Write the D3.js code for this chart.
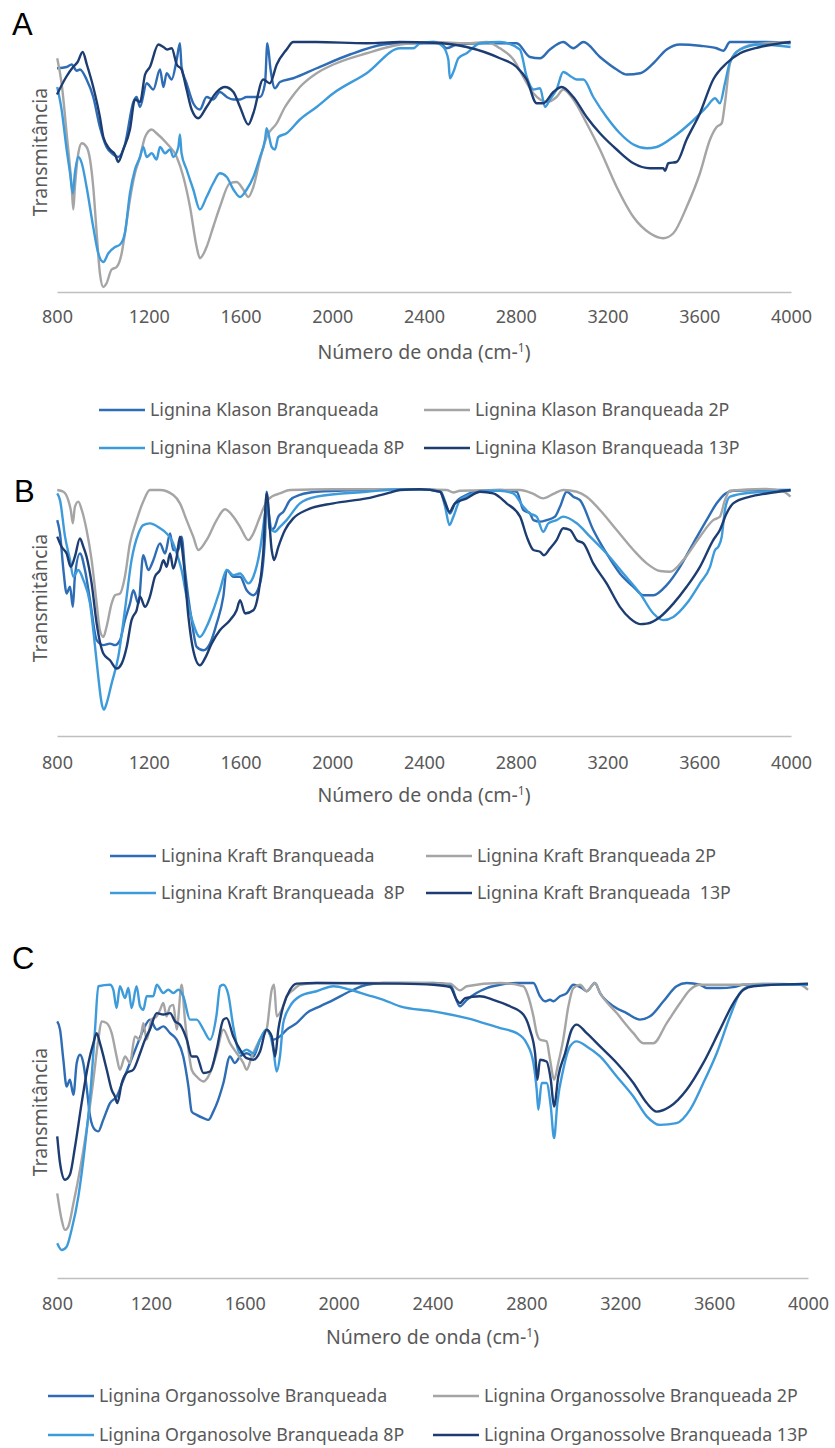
<!DOCTYPE html>
<html>
<head>
<meta charset="utf-8">
<script src="https://cdn.jsdelivr.net/npm/d3@7"></script>
<style>
  body { margin: 0; background: #fff; }
  svg { display: block; font-family: 'Noto Sans', 'Open Sans', sans-serif; }
  .tick-label { fill: #595959; font-size: 18px; }
  .axis-title { fill: #595959; font-size: 19.5px; }
  .legend-label { fill: #595959; font-size: 17.8px; white-space: pre; }
  .panel-letter { fill: #000; font-family: 'Liberation Sans', Arial, sans-serif; font-size: 31px; }
</style>
</head>
<body>
<script>
// wavenumber ticks (cm-1)
const xTicks = [800, 1200, 1600, 2000, 2400, 2800, 3200, 3600, 4000]

// series: [wavenumber, relative transmittance]
// A - Klason
const klasonB = [[800,89.5],[842,90],[864,91],[886,88.5],[900,89],[929,85],[958,78],[987,66],[1016,58],[1045,55],[1067,54],[1096,59],[1133,76],[1147,78],[1162,74],[1191,83.5],[1220,81],[1249,89],[1264,82],[1278,87.5],[1300,85],[1322,93],[1336,99.5],[1343,90],[1365,83.5],[1394,75.5],[1423,73],[1452,78],[1481,77],[1510,80],[1540,78],[1569,77],[1598,77],[1627,78],[1656,78],[1685,78],[1707,83.5],[1717,99.5],[1731,89],[1750,81.5],[1772,84],[1830,85.5],[1932,89.5],[2077,95],[2223,99],[2296,99.5],[2470,99.5],[2499,97.5],[2543,99],[2659,99.5],[2804,99.5],[2862,94],[2906,93.5],[2949,97],[3007,100],[3051,97.5],[3095,100],[3167,94],[3240,89],[3284,87],[3342,87.5],[3400,91.5],[3458,97],[3516,99],[3603,98.5],[3676,97.5],[3705,96.5],[3734,100],[3894,100],[3998,99.5]]
const klason2P = [[801,93.5],[820,83.5],[842,63.5],[864,42],[871,33],[878,42],[893,55.5],[908,59.5],[929,58],[944,53],[958,42],[973,23.5],[987,7.5],[1002,2],[1016,3.5],[1038,9],[1060,10],[1082,15.5],[1096,23.5],[1118,37],[1140,47.5],[1162,54],[1184,62],[1213,65],[1234,63.5],[1278,59.5],[1322,54],[1351,46],[1380,34],[1409,18],[1423,13.5],[1452,18],[1481,26],[1510,34],[1554,43.5],[1583,44],[1612,41],[1634,38],[1656,42],[1685,53],[1714,62],[1758,67.5],[1794,74],[1816,77],[1859,82],[1932,87.5],[2005,91],[2150,95.5],[2295,99],[2441,100],[2586,99.5],[2673,100],[2731,97.5],[2790,93],[2833,86],[2877,79.5],[2906,77],[2935,76],[2978,78],[3007,81],[3051,77],[3109,67.5],[3167,57],[3240,42],[3313,30],[3385,23.5],[3443,21.5],[3487,23.5],[3545,34],[3603,47.5],[3647,61],[3676,66],[3698,67.5],[3712,75.5],[3734,91.5],[3763,96],[3836,99],[3998,100]]
const klason8P = [[801,82],[820,73],[842,57],[857,47.5],[869,39.5],[878,47.5],[893,54],[908,51.5],[929,42],[958,26],[980,15.5],[1002,12],[1024,15.5],[1053,18],[1075,19],[1096,23.5],[1118,39.5],[1140,49],[1162,54],[1176,58],[1191,54],[1213,55.5],[1234,53],[1249,58],[1271,55.5],[1293,57],[1307,54],[1329,58],[1336,63],[1343,55.5],[1365,49],[1394,41],[1423,33],[1452,38],[1481,43.5],[1510,47.5],[1540,46],[1569,41],[1598,38],[1627,41],[1656,46],[1685,54],[1707,61],[1714,65.5],[1736,58],[1750,57],[1765,62],[1801,63.5],[1859,69],[1932,74],[2005,79.5],[2150,87.5],[2296,97.5],[2354,97.5],[2383,99.5],[2441,100],[2484,98],[2506,93],[2513,85.5],[2528,88],[2550,93.5],[2586,95.5],[2644,99.5],[2731,100],[2818,97],[2848,86],[2877,81],[2906,81.5],[2928,74],[2949,77],[2978,81],[3007,88],[3044,86],[3066,85],[3095,85],[3138,78],[3196,70],[3254,63.5],[3313,59],[3371,57.5],[3414,58],[3487,62],[3560,67.5],[3632,74],[3669,77.5],[3690,75.5],[3712,83.5],[3734,92],[3778,97],[3865,99],[3998,98]]
const klason13P = [[800,79],[840,86],[870,90],[890,92],[912,96],[930,91],[958,82],[987,70],[1002,62],[1031,57],[1053,55],[1067,52],[1089,57],[1118,65],[1140,77],[1162,76],[1184,87],[1205,90],[1242,99],[1264,98],[1280,97],[1300,97.5],[1322,91],[1343,89],[1365,81],[1387,73],[1416,69.5],[1452,74],[1496,80],[1532,82],[1569,80],[1598,74],[1634,67],[1656,71.5],[1699,85],[1728,83.5],[1758,91],[1801,97],[1830,100],[1930,100],[2150,99.5],[2295,100],[2441,99.7],[2586,98],[2731,93.5],[2804,90],[2848,85],[2891,75.5],[2920,75.5],[2964,80],[3000,82],[3051,78],[3109,70],[3167,63.5],[3240,57],[3313,51.5],[3385,49.5],[3443,49.5],[3451,48.5],[3465,51.5],[3501,52],[3545,61],[3603,71.5],[3661,85],[3719,91.5],[3778,95.5],[3865,98],[3998,100]]

// B - Kraft
const kraftB = [[801,87.4],[813,82],[828,67.2],[842,57.7],[857,60.4],[869,52.3],[878,64.5],[900,73.9],[922,67.2],[944,55],[973,38.8],[1002,36.8],[1031,37.4],[1053,36.8],[1075,38.8],[1096,46.9],[1118,53.6],[1133,59],[1155,53.6],[1176,73.2],[1198,67.2],[1220,71.2],[1249,78],[1271,73.9],[1293,82],[1307,75.3],[1329,75.3],[1343,80.7],[1358,67.2],[1387,46.9],[1409,36.1],[1438,34.7],[1467,37.4],[1496,45.5],[1525,56.4],[1540,67.2],[1569,64.5],[1598,64.5],[1627,59],[1656,57],[1685,61.8],[1707,80.7],[1714,98.9],[1728,83.4],[1746,84.1],[1765,88.8],[1787,90.8],[1816,95.5],[1859,97.6],[1932,98.9],[2150,99.6],[2296,99.9],[2383,99.9],[2470,99.3],[2492,94.9],[2513,90.1],[2535,94.2],[2586,97.6],[2644,99.3],[2731,99.6],[2804,98.9],[2833,91.5],[2862,90.1],[2877,87.4],[2906,86.8],[2935,87.4],[2971,88.8],[2993,92.8],[3022,98.9],[3051,96.9],[3080,95.5],[3138,83.4],[3196,73.9],[3254,65.8],[3313,60.4],[3356,57],[3400,57],[3458,61.1],[3516,68.5],[3574,78],[3632,87.4],[3676,94.2],[3712,98],[3748,99.3],[3894,99.6],[3998,99.6]]
const kraft2P = [[801,99.6],[828,98.9],[849,95.5],[860,91.5],[869,86.1],[878,92.8],[893,94.9],[908,91.5],[929,83.4],[951,71.2],[973,53.6],[987,42.8],[1002,40.1],[1016,44.2],[1038,53.6],[1053,57],[1075,57.7],[1096,64.5],[1118,78],[1147,87.4],[1176,94.9],[1205,99.6],[1249,99.6],[1307,97.6],[1336,94.2],[1365,87.4],[1394,80.7],[1416,75.3],[1452,79.3],[1496,87.4],[1532,91.8],[1569,88.8],[1598,84.7],[1634,79.3],[1656,82],[1685,88.8],[1714,94.9],[1736,96.9],[1772,98.2],[1816,99.6],[2005,99.9],[2296,99.9],[2499,99.6],[2528,98.6],[2557,99.3],[2819,99.6],[2877,98],[2920,96.2],[2964,98],[3007,99.6],[3066,98.9],[3109,96.9],[3167,91.5],[3240,83.4],[3313,75.3],[3371,69.9],[3429,66.8],[3472,66.5],[3530,71.2],[3603,80.7],[3661,87.4],[3690,88.8],[3712,95.5],[3734,99.3],[3894,100],[3967,98.9],[3998,96.9]]
const kraft8P = [[801,98.2],[813,95.5],[835,80.7],[857,71.2],[871,64.5],[893,67.2],[915,63.1],[944,53.6],[966,36.1],[980,23.9],[995,13.1],[1005,10.7],[1016,13.1],[1038,21.2],[1067,32],[1096,50.9],[1125,71.2],[1155,82],[1176,85.4],[1205,86.1],[1249,84.1],[1278,82],[1300,79.3],[1322,73.9],[1343,67.2],[1365,56.4],[1394,45.5],[1423,40.1],[1452,44.2],[1481,50.9],[1510,59],[1540,67.2],[1569,65.1],[1598,65.8],[1634,61.8],[1656,64.5],[1685,75.3],[1707,90.1],[1714,94.2],[1736,83.4],[1750,82.7],[1772,84.7],[1801,87.4],[1859,94.2],[1932,96.9],[2150,98.9],[2296,99.9],[2383,99.9],[2470,98.9],[2492,92.8],[2511,85.4],[2528,88.8],[2557,95.5],[2615,98.2],[2673,99.3],[2731,99.3],[2789,98.2],[2833,92.8],[2862,90.1],[2891,88.8],[2920,82.7],[2942,86.1],[2978,87.4],[3007,88.8],[3066,86.1],[3124,80.7],[3196,73.9],[3269,65.8],[3342,57.7],[3400,49.6],[3443,46.9],[3487,48.2],[3545,53.6],[3603,61.8],[3647,68.5],[3669,75.3],[3683,76.6],[3698,80.7],[3712,91.5],[3734,96.9],[3821,98.5],[3998,99.3]]
const kraft13P = [[801,80.7],[820,76.6],[842,73.9],[860,68.5],[878,72.6],[900,80],[915,76.6],[929,72.6],[951,61.8],[973,45.5],[1002,33.4],[1031,30.7],[1060,27.3],[1082,29.3],[1104,36.1],[1125,46.9],[1147,50.9],[1162,56.4],[1184,52.3],[1205,56.4],[1227,64.5],[1249,67.2],[1264,71.2],[1278,68.5],[1293,73.9],[1307,67.8],[1322,72.6],[1336,80.7],[1351,71.2],[1373,48.2],[1394,34.7],[1423,28.6],[1445,31.4],[1474,37.4],[1510,42.8],[1554,46.9],[1583,50.9],[1598,55],[1620,49.6],[1656,50.9],[1678,57.7],[1699,73.9],[1714,98.2],[1736,75.3],[1746,71.2],[1765,76.6],[1794,83.4],[1830,88.1],[1888,91.5],[2005,94.2],[2150,96.2],[2250,98.5],[2296,99.6],[2383,99.9],[2470,98.9],[2492,94.2],[2511,90.8],[2535,94.2],[2586,96.2],[2644,98.9],[2702,98.2],[2760,94.2],[2819,88.8],[2848,80.7],[2877,75.3],[2906,74.6],[2923,73.2],[2949,75.9],[2978,79.3],[3007,84.1],[3037,83.4],[3066,79.3],[3095,78],[3138,69.9],[3196,61.8],[3254,52.3],[3298,47.6],[3342,45.3],[3371,45.5],[3429,48.2],[3487,53.6],[3545,60.4],[3603,68.5],[3661,79.3],[3690,83.4],[3719,90.1],[3748,94.2],[3821,96.9],[3894,98.2],[3998,99.6]]

// C - Organossolve
const organoB = [[801,87],[813,84.2],[827,74],[841,64.9],[855,67.2],[870,62.1],[884,72.9],[898,75.7],[912,72.9],[926,64.9],[941,54.8],[962,50.2],[976,49.7],[997,53.6],[1026,59.3],[1054,61.5],[1083,67.2],[1111,72.9],[1139,78.5],[1168,84.2],[1196,87.6],[1225,84.2],[1253,85.3],[1282,83],[1310,80.8],[1338,75.1],[1360,64.9],[1374,56.4],[1395,55.3],[1424,54.2],[1445,53.6],[1466,56.4],[1487,60.4],[1509,66.1],[1537,75.1],[1558,72.9],[1580,75.1],[1608,76.2],[1637,75.1],[1665,80.8],[1693,84.2],[1722,80.8],[1750,81.9],[1779,84.2],[1821,86.4],[1864,89.8],[1921,92.1],[1978,94.3],[2049,97.2],[2120,99.4],[2191,100],[2262,100],[2404,100],[2475,99.4],[2517,92.1],[2546,94.3],[2631,98.3],[2688,99.4],[2759,100],[2830,100],[2858,95.5],[2879,93.8],[2901,94.3],[2915,93.8],[2943,95.5],[2972,96.6],[3000,99.4],[3036,98.3],[3057,97.2],[3092,100],[3114,96.6],[3171,92.1],[3227,89.8],[3284,87.6],[3327,88.7],[3384,93.8],[3440,98.9],[3483,100],[3540,99.4],[3568,98.3],[3625,98.3],[3682,98.6],[3725,99.4],[4000,99.4]]
const organo2P = [[801,28.7],[820,19.7],[834,16.3],[848,17.4],[870,25.3],[898,36.7],[926,50.2],[955,67.2],[976,80.8],[990,87],[1012,86.4],[1033,83],[1054,75.1],[1068,70.6],[1090,75.1],[1111,72.9],[1132,81.9],[1154,80.8],[1168,86.4],[1182,80.8],[1203,87.6],[1225,88.7],[1239,90.9],[1253,93.2],[1267,88.7],[1282,92.1],[1296,92.6],[1310,84.2],[1331,99.4],[1345,87.6],[1360,77.4],[1374,70.6],[1395,68.3],[1424,66.6],[1452,69.5],[1480,76.2],[1509,84.2],[1537,79.6],[1566,76.2],[1594,72.9],[1608,70.6],[1630,75.1],[1665,80.8],[1693,84.2],[1715,97.7],[1725,99.4],[1736,88.7],[1757,90.9],[1779,95.5],[1807,97.7],[1835,99.4],[1906,100],[2262,100],[2475,99.8],[2517,97.5],[2546,98.9],[2688,100],[2787,98.9],[2808,95.5],[2830,88.7],[2844,83],[2858,80.8],[2886,80.2],[2901,74],[2918,67.2],[2936,72.9],[2957,80.8],[2979,92.1],[3000,98.3],[3029,99.4],[3057,97.2],[3092,100],[3114,96.6],[3185,89.8],[3256,83],[3298,79.6],[3341,79.6],[3398,86.4],[3455,93.2],[3497,97.7],[3540,99.4],[3682,99.4],[3824,99.8],[3966,99.4],[4000,97.7]]
const organo8P = [[801,11.8],[820,9.5],[841,10.6],[862,16.3],[891,27.6],[919,44.6],[941,61.5],[962,84.2],[976,98.9],[1026,99.4],[1040,97.7],[1054,91.5],[1068,98.9],[1090,94.9],[1104,98.3],[1118,91.5],[1139,98.9],[1154,92.1],[1168,90.9],[1182,95.5],[1210,95.5],[1225,99.4],[1253,96.6],[1274,97.7],[1296,96.6],[1317,97.7],[1338,95.5],[1367,87.6],[1395,87.6],[1424,84.2],[1452,80.8],[1480,89.3],[1495,98.9],[1509,99.4],[1530,96],[1551,85.3],[1580,76.2],[1608,77.4],[1637,76.2],[1665,80.8],[1693,84.2],[1710,81.9],[1722,77.4],[1736,70],[1750,75.1],[1764,86.4],[1793,92.1],[1835,95.5],[1906,97.2],[1978,98.9],[2049,97.7],[2120,96],[2191,94.3],[2262,92.1],[2404,90.4],[2546,88.1],[2688,84.7],[2759,83],[2801,79.6],[2830,72.9],[2844,63.8],[2851,57],[2865,66.1],[2886,66.1],[2904,58.1],[2918,47.4],[2932,59.3],[2957,70.6],[2986,78.5],[3014,80.2],[3057,78.5],[3114,75.1],[3185,68.3],[3256,61.5],[3313,54.8],[3369,51.9],[3440,52.5],[3497,57],[3554,66.1],[3611,76.2],[3668,88.7],[3710,96.6],[3753,98.9],[3824,99.4],[4000,99.4]]
const organo13P = [[801,48],[813,38.9],[834,33.3],[855,35],[877,44.6],[905,59.3],[934,72.9],[955,79.6],[969,83],[983,79.6],[1012,70.6],[1033,63.8],[1047,61.5],[1057,59.3],[1076,66.1],[1097,69.5],[1125,70.6],[1154,76.2],[1175,80.8],[1196,84.2],[1225,89.8],[1253,89.3],[1282,89.8],[1303,87],[1324,85.9],[1353,80.8],[1374,75.1],[1395,75.1],[1424,69.5],[1452,70],[1480,77.4],[1509,87.6],[1523,88.1],[1551,81.9],[1580,77.4],[1608,74.5],[1637,74],[1665,76.8],[1693,84.2],[1715,81.9],[1729,75.1],[1743,84.2],[1764,92.1],[1793,97.7],[1821,99.8],[1906,100],[2262,99.8],[2404,99.4],[2475,98.6],[2503,94.3],[2517,93.2],[2539,94.9],[2602,95.5],[2659,94.3],[2730,92.1],[2787,89.3],[2815,84.2],[2837,76.2],[2847,67.2],[2858,74],[2886,73.4],[2904,67.2],[2918,58.1],[2936,68.3],[2965,76.2],[2993,84.2],[3014,85.9],[3057,83],[3114,78.5],[3185,72.9],[3256,66.1],[3313,59.3],[3355,56.4],[3412,58.1],[3483,63.8],[3554,72.9],[3625,84.2],[3682,93.2],[3725,97.7],[3767,98.9],[4000,99.8]]

// legend labels
const klasonNames = ['Lignina Klason Branqueada', 'Lignina Klason Branqueada 2P', 'Lignina Klason Branqueada 8P', 'Lignina Klason Branqueada 13P']
const kraftNames = ['Lignina Kraft Branqueada', 'Lignina Kraft Branqueada 2P', 'Lignina Kraft Branqueada  8P', 'Lignina Kraft Branqueada  13P']
const organoNames = ['Lignina Organossolve Branqueada', 'Lignina Organossolve Branqueada 2P', 'Lignina Organosolve Branqueada 8P', 'Lignina Organossolve Branqueada 13P']

const colors = ['#2E6DB5', '#A5A5A5', '#3D9BDB', '#1D3D72']

// layout
const width = 835
const height = 1448

const panels = [
    {letter: 'A', letterY: 35, letterX: 12, left: 57, right: 791, top: 42, bottom: 292,
     tickY: 317, titleY: 352, ylabelY: 152,
     series: [klasonB, klason2P, klason8P, klason13P], names: klasonNames,
     legendRows: [410, 448], legendCols: [99, 424]},
    {letter: 'B', letterY: 502, letterX: 14, left: 57, right: 791, top: 489, bottom: 736,
     tickY: 763, titleY: 795, ylabelY: 598,
     series: [kraftB, kraft2P, kraft8P, kraft13P], names: kraftNames,
     legendRows: [856, 893], legendCols: [110, 426]},
    {letter: 'C', letterY: 969, letterX: 12, left: 57, right: 808, top: 983, bottom: 1278,
     tickY: 1304, titleY: 1337, ylabelY: 1112,
     series: [organoB, organo2P, organo8P, organo13P], names: organoNames,
     legendRows: [1396, 1435], legendCols: [48, 433]}
]

const svg = d3.select('body').append('svg')
    .attr('width', width)
    .attr('height', height)

panels.forEach(drawPanel)

function drawPanel(p) {
    const x = d3.scaleLinear().domain([800, 4000]).range([p.left, p.right])
    const y = d3.scaleLinear().domain([0, 100]).range([p.bottom, p.top])
    const g = svg.append('g')

    // panel letter
    g.append('text')
        .attr('class', 'panel-letter')
        .attr('x', p.letterX)
        .attr('y', p.letterY)
        .text(p.letter)

    // x axis
    const xAxis = d3.axisBottom(x)
        .tickValues(xTicks)
        .tickFormat(d3.format('d'))
        .tickSize(0)
        .tickPadding(0)
    const ax = g.append('g')
        .attr('transform', `translate(0,${p.bottom})`)
        .call(xAxis)
    ax.attr('font-family', null).attr('font-size', null)
    ax.select('.domain').attr('stroke', '#BFBFBF').attr('stroke-width', 1.3)
    ax.selectAll('.tick text')
        .attr('class', 'tick-label')
        .attr('y', p.tickY - p.bottom)
        .attr('dy', '0.35em')
        .attr('fill', null)

    // axis titles
    const title = g.append('text')
        .attr('class', 'axis-title')
        .attr('x', (p.left + p.right) / 2)
        .attr('y', p.titleY)
        .attr('dy', '0.35em')
        .attr('text-anchor', 'middle')
    title.append('tspan').text('Número de onda (cm-')
    title.append('tspan').attr('font-size', '12px').attr('dy', '-0.55em').text('1')
    title.append('tspan').attr('dy', '0.35em').text(')')

    g.append('text')
        .attr('class', 'axis-title')
        .attr('transform', `translate(40,${p.ylabelY}) rotate(-90)`)
        .attr('text-anchor', 'middle')
        .attr('dy', '0.35em')
        .text('Transmitância')

    // spectra
    const line = d3.line()
        .x(d => x(d[0]))
        .y(d => y(d[1]))
        .curve(d3.curveMonotoneX)

    p.series.forEach((s, i) => {
        g.append('path')
            .datum(s)
            .attr('fill', 'none')
            .attr('stroke', colors[i])
            .attr('stroke-width', 2.4)
            .attr('stroke-linejoin', 'round')
            .attr('d', line)
    })

    // legend (2 x 2)
    p.names.forEach((name, i) => {
        const lx = p.legendCols[i % 2]
        const ly = p.legendRows[Math.floor(i / 2)]
        g.append('line')
            .attr('x1', lx).attr('x2', lx + 46)
            .attr('y1', ly).attr('y2', ly)
            .attr('stroke', colors[i])
            .attr('stroke-width', 2.6)
        g.append('text')
            .attr('class', 'legend-label')
            .attr('x', lx + 51)
            .attr('y', ly)
            .attr('dy', '0.35em')
            .text(name)
    })
}
</script>
</body>
</html>
